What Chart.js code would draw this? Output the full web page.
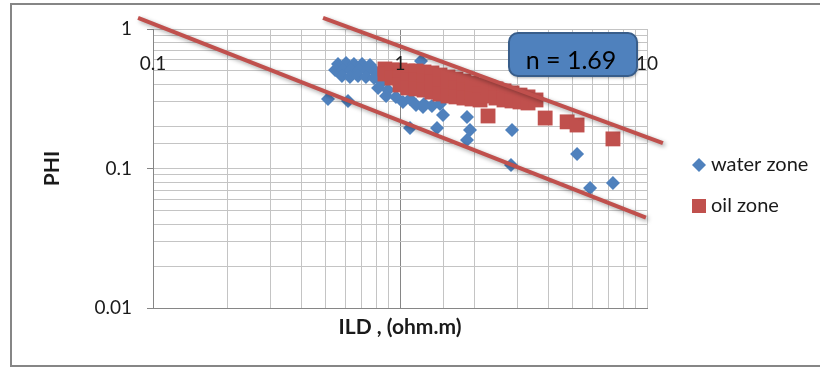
<!DOCTYPE html>
<html>
<head>
<meta charset="utf-8">
<script src="https://cdn.jsdelivr.net/npm/chart.js@4.4.1/dist/chart.umd.min.js"></script>
<style>
  html, body { margin: 0; padding: 0; background: #fff; }
</style>
</head>
<body>
<canvas id="grafico" width="820" height="367"></canvas>
<script>
// datos (ILD en ohm.m, PHI fraccion)
const waterILD = [0.561, 0.605, 0.651, 0.702, 0.756, 0.546, 0.588, 0.633, 0.682, 0.735,
  0.792, 0.582, 0.627, 0.676, 0.728, 0.785, 0.846, 0.815, 0.894, 0.878,
  0.963, 1.028, 1.098, 1.161, 1.251, 1.347, 1.452, 0.511, 0.616, 1.098,
  1.216, 1.412, 1.493, 1.239, 1.867, 1.920, 1.867, 2.841, 2.814, 5.210,
  5.880, 7.280]
const waterPHI = [0.561, 0.571, 0.561, 0.561, 0.552, 0.508, 0.508, 0.508, 0.508, 0.500,
  0.500, 0.460, 0.453, 0.460, 0.453, 0.445, 0.417, 0.378, 0.365, 0.331,
  0.326, 0.300, 0.315, 0.285, 0.290, 0.281, 0.290, 0.315, 0.305, 0.195,
  0.590, 0.195, 0.242, 0.276, 0.234, 0.189, 0.160, 0.189, 0.106, 0.127,
  0.0725, 0.0787]

const oilILD = [0.869, 0.869, 0.928, 0.928, 1.000, 1.000, 1.000, 1.077, 1.077, 1.077,
  1.161, 1.161, 1.161, 1.251, 1.251, 1.251, 1.347, 1.347, 1.347, 1.452,
  1.452, 1.452, 1.564, 1.564, 1.564, 1.685, 1.685, 1.685, 1.816, 1.816,
  1.816, 1.957, 1.957, 1.957, 2.109, 2.109, 2.109, 2.272, 2.272, 2.447,
  2.447, 2.637, 2.637, 2.841, 2.841, 3.061, 3.061, 3.298, 3.298, 3.553,
  2.272, 3.870, 4.750, 5.210, 7.280]
const oilPHI = [0.517, 0.476, 0.508, 0.445, 0.508, 0.445, 0.397, 0.500, 0.431, 0.378,
  0.500, 0.431, 0.372, 0.492, 0.424, 0.365, 0.484, 0.417, 0.353, 0.468,
  0.403, 0.342, 0.453, 0.390, 0.331, 0.438, 0.378, 0.326, 0.424, 0.365,
  0.320, 0.410, 0.353, 0.315, 0.397, 0.342, 0.310, 0.384, 0.331, 0.372,
  0.320, 0.360, 0.310, 0.348, 0.305, 0.336, 0.300, 0.326, 0.295, 0.310,
  0.238, 0.230, 0.216, 0.205, 0.163]

// lineas guia (trazadas a mano en el original)
const lowerLineILD = [0.087, 9.9]
const lowerLinePHI = [1.2, 0.0445]
const upperLineILD = [0.488, 11.6]
const upperLinePHI = [1.2, 0.152]

const xTickLabels = ['0.1', '1', '10']
const yTickLabels = ['0.01', '0.1', '1']
const seriesNames = ['water zone', 'oil zone']
const nLabel = 'n = 1.69'

const AZUL = '#4F81BD'
const ROJO = '#C0504D'
const FUENTE = 'Lato'
const GRIS = '#C4C4C4'

const toPoints = (xs, ys) => xs.map((x, i) => ({ x, y: ys[i] }))
const esMayor = (v) => Math.abs(Math.log10(v) - Math.round(Math.log10(v))) < 1e-6
const etiqueta = (lista, v) => lista.find((l) => Math.abs(parseFloat(l) - v) < v * 1e-6) || ''

const decoraciones = {
  id: 'decoraciones',
  beforeDatasetDraw(chart, args) {
    if (!chart.data.datasets[args.index].guia) return
    const ctx = chart.ctx
    ctx.save()
    ctx.shadowColor = 'rgba(0,0,0,0.35)'
    ctx.shadowBlur = 4
    ctx.shadowOffsetX = 2
    ctx.shadowOffsetY = 2
  },
  afterDatasetDraw(chart, args) {
    if (chart.data.datasets[args.index].guia) chart.ctx.restore()
  },
  afterDatasetsDraw(chart) {
    // etiquetas del eje X dibujadas dentro del area, como en Excel
    const { ctx, scales: { x } } = chart
    ctx.save()
    ctx.fillStyle = '#1a1a1a'
    ctx.font = '19px ' + FUENTE
    ctx.textAlign = 'center'
    ctx.textBaseline = 'middle'
    xTickLabels.forEach((l) => ctx.fillText(l, x.getPixelForValue(parseFloat(l)), 64))
    ctx.restore()
  },
  afterDraw(chart) {
    const ctx = chart.ctx
    const area = chart.chartArea
    ctx.save()

    // caja n = 1.69
    ctx.shadowColor = 'rgba(0,0,0,0.3)'
    ctx.shadowBlur = 3
    ctx.shadowOffsetX = 1
    ctx.shadowOffsetY = 2
    ctx.beginPath()
    ctx.roundRect(509, 33, 128, 43, 9)
    ctx.fillStyle = AZUL
    ctx.fill()
    ctx.shadowColor = 'transparent'
    ctx.lineWidth = 2
    ctx.strokeStyle = '#385D8A'
    ctx.stroke()
    ctx.fillStyle = '#000'
    ctx.font = '25px ' + FUENTE
    ctx.textAlign = 'center'
    ctx.textBaseline = 'middle'
    ctx.fillText(nLabel, 571, 61)

    // leyenda
    const lx = area.right + 52
    ctx.fillStyle = AZUL
    ctx.beginPath()
    ctx.moveTo(lx - 7, 165)
    ctx.lineTo(lx, 158)
    ctx.lineTo(lx + 7, 165)
    ctx.lineTo(lx, 172)
    ctx.closePath()
    ctx.fill()
    ctx.fillStyle = ROJO
    ctx.fillRect(lx - 7, 199, 14, 14)
    ctx.fillStyle = '#1a1a1a'
    ctx.font = '20px ' + FUENTE
    ctx.textAlign = 'left'
    ctx.fillText(seriesNames[0], lx + 12, 165)
    ctx.fillText(seriesNames[1], lx + 12, 206)

    // borde exterior
    ctx.strokeStyle = '#868686'
    ctx.lineWidth = 2
    ctx.strokeRect(11, 4, 830, 362)
    ctx.restore()
  }
}

new Chart(document.getElementById('grafico'), {
  type: 'scatter',
  data: {
    datasets: [
      {
        label: 'upper',
        guia: true,
        data: toPoints(upperLineILD, upperLinePHI),
        showLine: true,
        borderColor: ROJO,
        borderWidth: 4,
        pointRadius: 0,
        clip: false,
      },
      {
        label: 'lower',
        guia: true,
        data: toPoints(lowerLineILD, lowerLinePHI),
        showLine: true,
        borderColor: ROJO,
        borderWidth: 4,
        pointRadius: 0,
        clip: false,
      },
      {
        label: seriesNames[1],
        data: toPoints(oilILD, oilPHI),
        pointStyle: 'rect',
        pointRadius: 10.5,
        backgroundColor: ROJO,
        borderWidth: 0,
      },
      {
        label: seriesNames[0],
        data: toPoints(waterILD, waterPHI),
        pointStyle: 'rectRot',
        pointRadius: 7,
        backgroundColor: AZUL,
        borderWidth: 0,
      },
    ],
  },
  options: {
    responsive: false,
    animation: false,
    layout: { padding: { top: 29, right: 173, bottom: 0, left: 0 } },
    plugins: { legend: { display: false }, tooltip: { enabled: false } },
    scales: {
      x: {
        type: 'logarithmic',
        min: 0.1,
        max: 10,
        ticks: { display: false },
        grid: {
          drawTicks: false,
          color: (c) => (c.tick && c.tick.value === 1 ? '#868686' : GRIS),
        },
        border: { color: '#868686' },
        title: {
          display: true,
          text: 'ILD , (ohm.m)',
          color: '#1a1a1a',
          font: { family: FUENTE, size: 21, weight: 'bold' },
          padding: { top: 0, bottom: 27 },
        },
        afterFit: (s) => { s.height = 59 },
      },
      y: {
        type: 'logarithmic',
        min: 0.01,
        max: 1,
        ticks: {
          autoSkip: false,
          padding: 15,
          color: '#1a1a1a',
          font: { family: FUENTE, size: 19 },
          callback: (v) => etiqueta(yTickLabels, v),
        },
        grid: {
          tickLength: 6,
          color: GRIS,
          tickColor: (c) => (c.tick && esMayor(c.tick.value) ? '#868686' : 'transparent'),
        },
        border: { color: '#868686' },
        title: {
          display: true,
          text: 'PHI',
          color: '#1a1a1a',
          font: { family: FUENTE, size: 21, weight: 'bold' },
          padding: { top: 40, bottom: 0 },
        },
        afterFit: (s) => { s.width = 153 },
      },
    },
  },
  plugins: [decoraciones],
})
</script>
</body>
</html>
